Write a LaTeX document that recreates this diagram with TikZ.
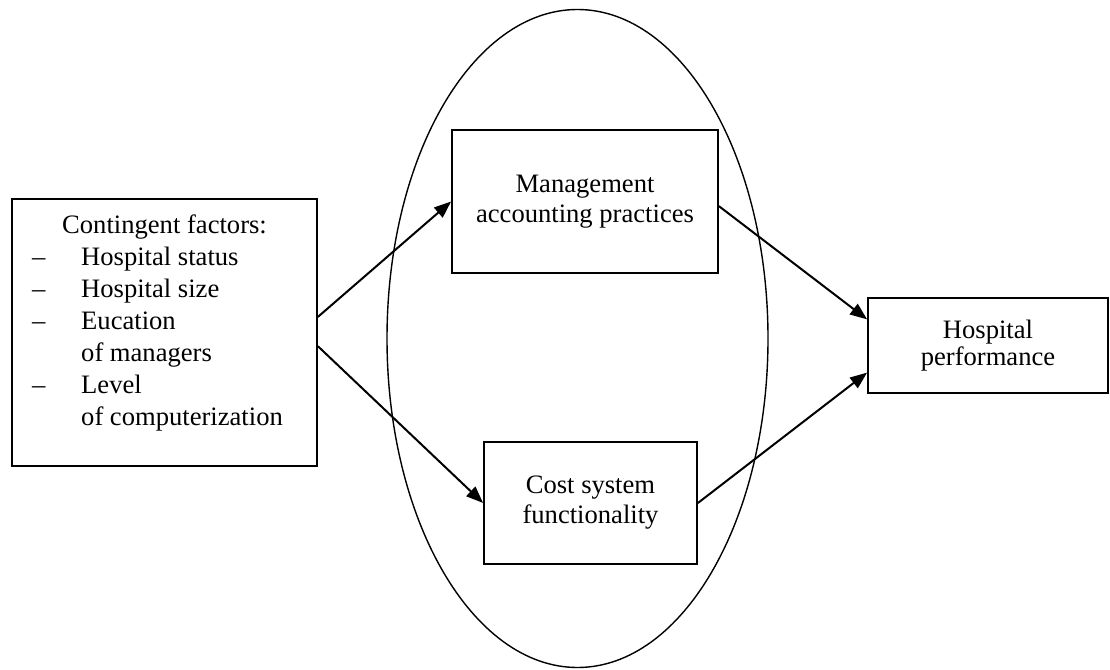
\documentclass[tikz,border=0pt]{standalone}
\usepackage{fontspec}
\setmainfont{Liberation Serif}
\usetikzlibrary{arrows.meta,calc,shapes.geometric}
\begin{document}
\begin{tikzpicture}[x=1pt,y=-1pt,
  box/.style={draw, line width=1.8pt, inner sep=0pt, align=center,
    font=\fontsize{26.6}{30}\selectfont},
  arr/.style={line width=2pt, -{Triangle[length=17pt,width=13pt]}}]
\useasboundingbox (0,0) rectangle (1110,669);
\node[draw, ellipse, line width=1.4pt, minimum width=381pt, minimum height=658pt, inner sep=0pt] (ell) at (577.5,338.5) {};
\node[box, minimum width=305pt, minimum height=267pt] (cf) at (164.5,332.5) {};
\node[anchor=base west, inner sep=0pt, font=\fontsize{26.6}{32}\selectfont] (cftext) at (32,233)
  {\begin{tabular}[t]{@{}p{49pt}@{}l@{}}
   \multicolumn{2}{@{}l@{}}{\hspace{30pt}Contingent factors:}\\
   – & Hospital status\\
   – & Hospital size\\
   – & Eucation\\
     & of managers\\
   – & Level\\
     & of computerization
   \end{tabular}};
\node[box, minimum width=266pt, minimum height=143pt] (mgmt) at (585,201.5) {Management\\accounting practices};
\node[box, minimum width=213pt, minimum height=122pt] (cost) at (590.5,503) {Cost system\\functionality};
\node[box, minimum width=240pt, minimum height=95pt] (hosp) at (988,345.5) {\raisebox{5pt}{\begin{tabular}{@{}c@{}}Hospital\\[-3pt]performance\end{tabular}}};
\draw[arr] ($(cf.north east)!0.442!(cf.south east)$) -- (mgmt.west);
\draw[arr] ($(cf.north east)!0.551!(cf.south east)$) -- (cost.west);
\draw[arr] ($(mgmt.north east)!0.532!(mgmt.south east)$) -- ($(hosp.north west)!0.23!(hosp.south west)$);
\draw[arr] (cost.east) -- ($(hosp.north west)!0.78!(hosp.south west)$);
\end{tikzpicture}
\end{document}
